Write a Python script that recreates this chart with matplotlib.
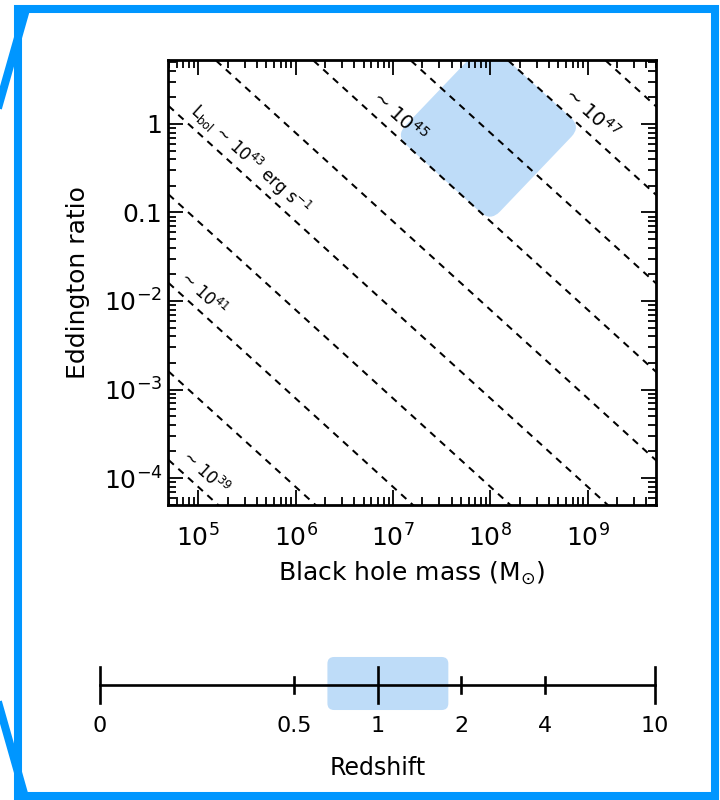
import numpy as np
import matplotlib.pyplot as plt
from matplotlib.path import Path
from matplotlib.patches import PathPatch, FancyBboxPatch, Rectangle
from matplotlib.lines import Line2D
from matplotlib.ticker import LogLocator, FixedLocator, FixedFormatter, NullFormatter

plt.rcParams['font.family'] = 'DejaVu Sans'

# L_bol = 10**log_ledd * M * lambda_Edd
log_ledd = 38.1
lum_exps = [39, 40, 41, 42, 43, 44, 45, 46, 47, 48]

# labelled lines
label_exps = [39, 41, 43, 45, 47]
label_text = ['~ 10$^{39}$', '~ 10$^{41}$',
              'L$_{\\rm bol}$ ~ 10$^{43}$ erg s$^{-1}$',
              '~ 10$^{45}$', '~ 10$^{47}$']

# highlighted region (corners: left, bottom, right, top)
box_mass = [1.07e7, 1.0e8, 8.5e8, 9.1e7]
box_edd = [0.74, 0.079, 0.93, 8.7]

# eddington ratio axis
edd_ticks = [1e-4, 1e-3, 1e-2, 0.1, 1]
edd_labels = ['$10^{-4}$', '$10^{-3}$', '$10^{-2}$', '0.1', '1']

# redshift bar
redshift_ticks = [0, 0.5, 1, 2, 4, 10]
redshift_labels = ['0', '0.5', '1', '2', '4', '10']
redshift_major = [0, 1, 10]
redshift_range = [0.66, 1.8]

blue = '#0096FF'
light = '#BEDCF8'


def rounded_path(xs, ys, r):
    # xs, ys in log space, closed polygon with rounded corners
    pts = np.column_stack([xs, ys])
    n = len(pts)
    verts, codes = [], []
    for i in range(n):
        c = pts[i]
        p = pts[i - 1]
        q = pts[(i + 1) % n]
        a = c + r * (p - c) / np.linalg.norm(p - c)
        b = c + r * (q - c) / np.linalg.norm(q - c)
        verts += [a, c, b]
        codes += [Path.LINETO, Path.CURVE3, Path.CURVE3]
    codes[0] = Path.MOVETO
    verts.append(verts[0])
    codes.append(Path.CLOSEPOLY)
    return np.array(verts), codes


fig = plt.figure(figsize=(7.2, 8), dpi=100)
ax = fig.add_axes([168 / 720, 1 - 505 / 800, 488 / 720, 445 / 800])
ax.set_xscale('log')
ax.set_yscale('log')
ax.set_xlim(10**4.69, 10**9.70)
ax.set_ylim(10**-4.305, 10**0.723)

# shaded region
v, c = rounded_path(np.log10(box_mass), np.log10(box_edd), 0.15)
ax.add_patch(PathPatch(Path(10**v, c), facecolor=light, edgecolor='none', zorder=1))

# constant luminosity lines
m = np.logspace(4, 10.5, 50)
for e in lum_exps:
    ax.plot(m, 10**(e - log_ledd) / m, color='black', lw=1.45,
            linestyle=(0, (3.5, 3)), zorder=2)

# line labels
p1 = ax.transData.transform((1e5, 1e-1))
p2 = ax.transData.transform((1e6, 1e-2))
ang = np.degrees(np.arctan2(p2[1] - p1[1], p2[0] - p1[0]))
perp = np.radians(ang + 90)
label_logm = [4.97, 4.95, 5.43, 6.95, 8.92]
label_size = [12, 12, 12, 14, 14]
for e, t, lm, fs in zip(label_exps, label_text, label_logm, label_size):
    off = 11 if fs == 12 else 12
    ax.annotate(t, xy=(10**lm, 10**(e - log_ledd - lm)),
                xytext=(off * np.cos(perp), off * np.sin(perp)),
                textcoords='offset points', rotation=ang,
                rotation_mode='anchor', ha='center', va='center',
                fontsize=fs, zorder=3)

ax.xaxis.set_major_locator(LogLocator(base=10, numticks=20))
ax.xaxis.set_minor_locator(LogLocator(base=10, subs=np.arange(2, 10), numticks=100))
ax.xaxis.set_minor_formatter(NullFormatter())
ax.yaxis.set_major_locator(FixedLocator(edd_ticks))
ax.yaxis.set_major_formatter(FixedFormatter(edd_labels))
ax.yaxis.set_minor_locator(LogLocator(base=10, subs=np.arange(2, 10), numticks=100))
ax.yaxis.set_minor_formatter(NullFormatter())

ax.tick_params(which='both', direction='in', top=True, right=True, width=1.3)
ax.tick_params(which='major', length=11, labelsize=18)
ax.tick_params(axis='x', which='major', pad=14)
ax.tick_params(axis='y', which='major', pad=4)
ax.tick_params(which='minor', length=5.5)
for s in ax.spines.values():
    s.set_linewidth(2)

ax.set_xlabel('Black hole mass (M$_{\\odot}$)', fontsize=18, labelpad=6)
ax.set_ylabel('Eddington ratio', fontsize=18, labelpad=10)

# redshift bar
ax2 = fig.add_axes([100 / 720, 1 - 715 / 800, 555 / 720, 60 / 800])
ax2.set_xscale('log')
ax2.set_xlim(0.1, 10)
ax2.set_ylim(-1, 1)
ax2.axis('off')

zpos = np.maximum(redshift_ticks, 0.1)
x0 = (np.log10(redshift_range[0]) + 1) / 2
x1 = (np.log10(redshift_range[1]) + 1) / 2
ax2.add_patch(FancyBboxPatch((x0, 0.083), x1 - x0, 0.884,
                             boxstyle='round,pad=0,rounding_size=0.012',
                             mutation_aspect=555 / 60, transform=ax2.transAxes,
                             facecolor=light, edgecolor='none', zorder=1))
ax2.plot([zpos[0], zpos[-1]], [0, 0], color='black', lw=1.9, zorder=2,
         clip_on=False)
for z, p, lab in zip(redshift_ticks, zpos, redshift_labels):
    h = 0.6 if z in redshift_major else 0.27
    ax2.plot([p, p], [-h, h], color='black', lw=1.9, zorder=2, clip_on=False)
    ax2.text(p, -1.36, lab, ha='center', va='center', fontsize=16)
ax2.text(0.5, -0.88, 'Redshift', transform=ax2.transAxes, ha='center',
         va='center', fontsize=17)

# frame and callout lines
fig.add_artist(Rectangle((18 / 720, 1 - 796 / 800), 697 / 720, 787 / 800,
                         transform=fig.transFigure, fill=False, ec=blue, lw=5.8))
fig.add_artist(Line2D([25 / 720, -2 / 720], [1 - 13 / 800, 1 - 108 / 800],
                      transform=fig.transFigure, color=blue, lw=5.8))
fig.add_artist(Line2D([-2 / 720, 23 / 720], [1 - 702 / 800, 1 - 790 / 800],
                      transform=fig.transFigure, color=blue, lw=5.8))

fig.savefig('out.png', dpi=100)
